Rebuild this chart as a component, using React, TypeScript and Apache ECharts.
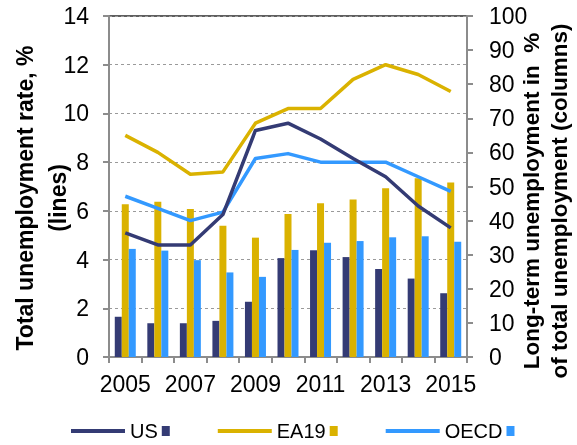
import React, { useEffect, useRef } from "react";
import * as echarts from "echarts";

const years = ["2005", "2006", "2007", "2008", "2009", "2010", "2011", "2012", "2013", "2014", "2015"];
const seriesNames = ["US", "EA19", "OECD"];
const seriesColors = ["#343B74", "#DAB200", "#3399FF"];
// Total unemployment rate, % (lines, left axis)
const usRate = [5.1, 4.6, 4.6, 5.85, 9.3, 9.6, 8.95, 8.15, 7.4, 6.2, 5.3];
const ea19Rate = [9.1, 8.4, 7.5, 7.6, 9.6, 10.2, 10.2, 11.4, 12.0, 11.6, 10.9];
const oecdRate = [6.6, 6.1, 5.6, 5.95, 8.15, 8.35, 8.0, 8.0, 8.0, 7.4, 6.8];
// Long-term unemployment, % of total unemployment (columns, right axis)
const usLong = [11.8, 9.9, 9.9, 10.6, 16.2, 29.0, 31.3, 29.3, 25.8, 23.0, 18.7];
const ea19Long = [44.8, 45.5, 43.4, 38.5, 35.0, 41.9, 45.1, 46.2, 49.5, 52.4, 51.2];
const oecdLong = [31.7, 31.2, 28.4, 24.8, 23.5, 31.4, 33.5, 34.0, 35.1, 35.4, 33.8];

const leftTitle = "Total unemployment rate, %\n(lines)";
const rightTitle = "Long-term unemployment in  %\nof total unemployment (columns)";

const FONT = "'Liberation Sans', Arial, sans-serif";

export default function App() {
  const ref = useRef<HTMLDivElement>(null);
  useEffect(() => {
    if (!ref.current) return;
    const chart = echarts.init(ref.current, null, { renderer: "svg" });
    const rates = [usRate, ea19Rate, oecdRate];
    const longs = [usLong, ea19Long, oecdLong];
    const rich: any = { gap: { width: 4 } };
    seriesNames.forEach((n, i) => {
      rich["sq" + n] = { width: 8, height: 10, backgroundColor: seriesColors[i] };
    });
    const axisLine = { show: true, lineStyle: { color: "#8C8C8C", width: 2 } };
    chart.setOption({
      animation: false,
      textStyle: { fontFamily: FONT },
      grid: {
        left: 109,
        right: 110,
        top: 16,
        bottom: 88,
        show: true,
        borderColor: "#5F5F5F",
        borderWidth: 2,
        backgroundColor: "transparent",
      },
      legend: {
        data: seriesNames.map((n) => ({ name: n, icon: "rect" })),
        left: 66,
        top: 416,
        itemWidth: 54,
        itemHeight: 4,
        itemGap: 48,
        formatter: (name: string) => `${name}{gap|}{sq${name}|}`,
        textStyle: { fontSize: 20, color: "#000", fontFamily: FONT, rich },
      },
      xAxis: {
        type: "category",
        data: years,
        boundaryGap: true,
        axisLine,
        axisTick: { show: true, interval: 0, length: 6, lineStyle: { color: "#8C8C8C", width: 2 } },
        axisLabel: { interval: 1, fontSize: 23, color: "#000", margin: 15, fontFamily: FONT },
        splitLine: { show: false },
      },
      yAxis: [
        {
          type: "value",
          min: 0,
          max: 14,
          interval: 2,
          axisLine,
          axisTick: { show: true, length: 6, lineStyle: { color: "#8C8C8C", width: 2 } },
          axisLabel: { fontSize: 23, color: "#000", margin: 20, fontFamily: FONT },
          splitLine: { show: true, lineStyle: { color: "#9A9A9A", type: [3, 3], width: 1 } },
        },
        {
          type: "value",
          min: 0,
          max: 100,
          interval: 10,
          position: "right",
          axisLine,
          axisTick: { show: true, length: 6, lineStyle: { color: "#8C8C8C", width: 2 } },
          axisLabel: { fontSize: 23, color: "#000", margin: 22, fontFamily: FONT },
          splitLine: { show: false },
        },
      ],
      graphic: [
        {
          type: "text",
          x: 41,
          y: 198,
          rotation: Math.PI / 2,
          style: {
            text: leftTitle,
            fontSize: 23,
            fontWeight: "bold",
            fontFamily: FONT,
            fill: "#000",
            align: "center",
            verticalAlign: "middle",
            lineHeight: 33,
          },
        },
        {
          type: "text",
          x: 545,
          y: 201,
          rotation: Math.PI / 2,
          style: {
            text: rightTitle,
            fontSize: 22.5,
            fontWeight: "bold",
            fontFamily: FONT,
            fill: "#000",
            align: "center",
            verticalAlign: "middle",
            lineHeight: 28,
          },
        },
      ],
      series: [
        ...seriesNames.map((n, i) => ({
          name: n + " long-term",
          type: "bar",
          yAxisIndex: 1,
          data: longs[i],
          barWidth: 7,
          barGap: "0%",
          itemStyle: { color: seriesColors[i] },
          z: 2,
        })),
        ...seriesNames.map((n, i) => ({
          name: n,
          type: "line",
          yAxisIndex: 0,
          data: rates[i],
          symbol: "none",
          itemStyle: { color: seriesColors[i] },
          lineStyle: { color: seriesColors[i], width: 3.5, join: "round" },
          z: 5 - i,
        })),
      ],
    });
    return () => chart.dispose();
  }, []);
  return <div ref={ref} style={{ position: "fixed", left: 0, top: 0, width: 577, height: 445 }} />;
}
